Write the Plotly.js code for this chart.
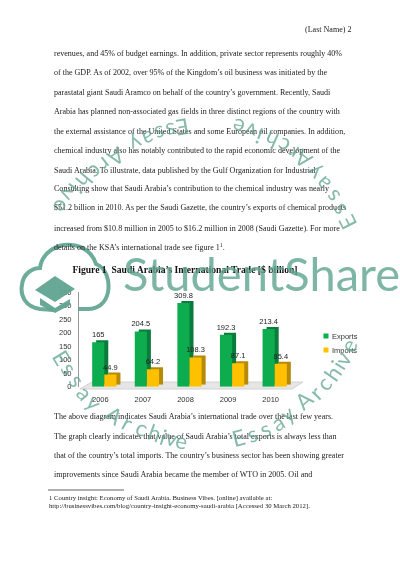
<!DOCTYPE html>
<html><head><meta charset="utf-8">
<script src="https://cdn.plot.ly/plotly-3.0.1.min.js"></script>
<style>html,body{margin:0;padding:0;background:#fff}#chart{width:400px;height:566px;filter:blur(0.3px)}</style>
</head><body><div id="chart"></div>
<script>
const years = ['2006','2007','2008','2009','2010'];
const exportsVals = [165,204.5,309.8,192.3,213.4];
const importsVals = [44.9,64.2,108.3,87.1,85.4];
const yTicks = [0,50,100,150,200,250,300,350];
const chartTitle = '<b>Figure 1  Saudi Arabia’s International Trade [$ billion]</b>';
const header = '(Last Name) 2';
const topLines = [
 'revenues, and 45% of budget earnings. In addition, private sector represents roughly 40%',
 'of the GDP. As of 2002, over 95% of the Kingdom’s oil business was initiated by the',
 'parastatal giant Saudi Aramco on behalf of the country’s government. Recently, Saudi',
 'Arabia has planned non-associated gas fields in three distinct regions of the country with',
 'the external assistance of the United States and some European oil companies. In addition,',
 'chemical industry also has notably contributed to the rapid economic development of the',
 'Saudi Arabia. To illustrate, data published by the Gulf Organization for Industrial',
 'Consulting show that Saudi Arabia’s contribution to the chemical industry was nearly',
 '$51.2 billion in 2010. As per the Saudi Gazette, the country’s exports of chemical products',
 'increased from $10.8 million in 2005 to $16.2 million in 2008 (Saudi Gazette). For more',
 'details on the KSA’s international trade see figure 1<sup>1</sup>.'];
const topLineY = [53,72,92,111,131,150,170,189,208,228,247];
const lowLines = [
 'The above diagram indicates Saudi Arabia’s international trade over the last few years.',
 'The graph clearly indicates that value of Saudi Arabia’s total exports is always less than',
 'that of the country’s total imports. The country’s business sector has been showing greater',
 'improvements since Saudi Arabia became the member of WTO in 2005. Oil and'];
const lowLineY = [416,436,455,474];
const footLines = [
 '1 Country insight: Economy of Saudi Arabia. Business Vibes. [online] available at:',
 'http://businessvibes.com/blog/country-insight-economy-saudi-arabia [Accessed 30 March 2012].'];
const footLineY = [497,505];
const legendNames = ['Exports','Imports'];
const legendColors = ['#0dac4e','#ffc000'];
const legendY = [336,350];
const wmText = 'EssayArchive'.split('');
const wmArcs = [
 {x:[183,171,160,149,136,116,106,96,85,76,69,62], y:[128,132,135,139,145,158,165,172,181,188,195,206], a:[170,168,165,160,155,147,142,137,130,125,115,107]},
 {x:[347,338,331,322,313,303,293,283,271,260,250,238], y:[223,210,197,185,173,160,153,147,141,136,132,128], a:[243,238,232,228,225,218,213,208,204,200,197,194]},
 {x:[62,70,78,85,95,115,128,142,155,163,172,182], y:[357,368,380,392,402,415,422,427,432,436,438,440], a:[59,57,54,50,46,36,30,25,20,18,15,12]},
 {x:[238,252,265,277,287,303,315,323,332,337,342,348], y:[437,433,428,422,413,400,392,383,373,365,358,345], a:[-15,-19,-24,-30,-36,-42,-46,-50,-55,-58,-62,-65]}
];
const W=400,H=566;
const px=x=>x/W, py=y=>1-y/H;
const ink='#222', teal='#5fa490';
const ann=[];
function txt(text,x,y,size,opt){ann.push(Object.assign({text,x:px(x),y:py(y),xref:'paper',yref:'paper',xanchor:'left',yanchor:'middle',showarrow:false,borderpad:0,align:'left',font:{family:'Liberation Serif',size,color:ink}},opt||{}));}
topLines.forEach((t,i)=>txt(t,53,topLineY[i],8.05));
lowLines.forEach((t,i)=>txt(t,53,lowLineY[i],8.05));
footLines.forEach((t,i)=>txt(t,48,footLineY[i],6.72));
txt(header,352,29,8.05,{xanchor:'right'});
legendNames.forEach((t,i)=>txt(t,330.5,legendY[i],7.5,{font:{family:'Liberation Sans',size:7.5,color:'#333'}}));
wmArcs.forEach(arc=>wmText.forEach((c,i)=>txt(c,arc.x[i],arc.y[i],22,{xanchor:'center',textangle:arc.a[i],opacity:.75,font:{family:'Lato',size:22,color:teal}})));
txt('StudentShare',122,273,47,{opacity:.8,font:{family:'Lato',size:47,color:teal}});
const shapes=[
 {type:'path',layer:'below',xref:'paper',yref:'paper',path:'',fillcolor:'#e6e6e6',line:{color:'#d2d2d2',width:1},_p:[[80,389],[292,389],[303,382],[92,382]]},
 {type:'path',layer:'above',xref:'paper',yref:'paper',opacity:.9,line:{color:teal,width:4},fillcolor:'rgba(0,0,0,0)',_c:'M53,310 L40,309 C25,307 20,295 22,285 C23,274 32,268 40,268 C42,252 58,243 72,245 C84,246 93,254 96,264 C106,268 110,280 108,292 C106,303 98,309 88,309 L78,309'},
 {type:'path',layer:'above',xref:'paper',yref:'paper',opacity:.95,line:{width:0},fillcolor:teal,_p:[[35,290],[55,276],[75,289],[55,302]]},
 {type:'path',layer:'above',xref:'paper',yref:'paper',opacity:.95,line:{width:0},fillcolor:teal,_p:[[40,298],[40,305],[55,313],[70,305],[70,299],[55,308]]},
 {type:'line',xref:'paper',yref:'paper',x0:px(48),x1:px(124),y0:py(490),y1:py(490),line:{color:'#222',width:0.7}}
];
legendColors.forEach((c,i)=>shapes.push({type:'rect',xref:'paper',yref:'paper',x0:px(323.5),x1:px(328.5),y0:py(legendY[i]+2.5),y1:py(legendY[i]-2.5),fillcolor:c,line:{width:0}}));
const f=(x,y)=>`${px(x)},${py(y)}`;
shapes.forEach(s=>{
 if(s._p){s.path='M'+s._p.map(p=>f(p[0],p[1])).join(' L')+' Z';delete s._p;}
 if(s._c){s.path=s._c.replace(/(-?\d+),(-?\d+)/g,(m,a,b)=>f(+a,+b));delete s._c;}
});
const common={type:'bar',x:years,showlegend:false};
const labelFont={family:'Liberation Sans',size:7.5,color:'#222'};
const data=[
 Object.assign({},common,{name:'Exports side',y:exportsVals,xaxis:'x',yaxis:'y',marker:{color:'#0a7d3c'},hoverinfo:'skip'}),
 Object.assign({},common,{name:'Imports side',y:importsVals,xaxis:'x',yaxis:'y',marker:{color:'#b58a08'},hoverinfo:'skip'}),
 Object.assign({},common,{name:'Exports',y:exportsVals,xaxis:'x2',yaxis:'y2',marker:{color:legendColors[0]},text:exportsVals.map(String),textposition:'outside',constraintext:'none',cliponaxis:false,textfont:labelFont}),
 Object.assign({},common,{name:'Imports',y:importsVals,xaxis:'x2',yaxis:'y2',marker:{color:legendColors[1]},text:importsVals.map(String),textposition:'outside',constraintext:'none',cliponaxis:false,textfont:labelFont})
];
const layout={
 width:W,height:H,margin:{l:0,r:0,t:0,b:0},paper_bgcolor:'#fff',plot_bgcolor:'rgba(0,0,0,0)',
 barmode:'group',bargap:0.43,bargroupgap:0,showlegend:false,
 title:{text:chartTitle,x:px(185),xanchor:'center',y:py(270),yanchor:'middle',font:{family:'Liberation Serif',size:9.6,color:'#111'}},
 xaxis:{domain:[px(87),px(300)],visible:false,fixedrange:true},
 yaxis:{domain:[py(384.7),py(290.2)],range:[0,350],visible:false,fixedrange:true},
 xaxis2:{domain:[px(83),px(296)],anchor:'y2',type:'category',tickvals:years,ticktext:years,ticks:'',showline:false,ticklabelshift:-4,ticklabelstandoff:7,tickfont:{family:'Liberation Sans',size:7.5,color:'#333'}},
 yaxis2:{domain:[py(386.7),py(292.2)],range:[0,350],anchor:'free',position:px(78),tickvals:yTicks,ticks:'',showgrid:false,zeroline:false,showline:true,linecolor:'#999',linewidth:1,ticklabelshift:-2.5,ticklabelstandoff:5,tickfont:{family:'Liberation Sans',size:7.5,color:'#333'}},
 annotations:ann,shapes:shapes
};
Plotly.newPlot('chart',data,layout,{displayModeBar:false,staticPlot:true});
</script></body></html>
